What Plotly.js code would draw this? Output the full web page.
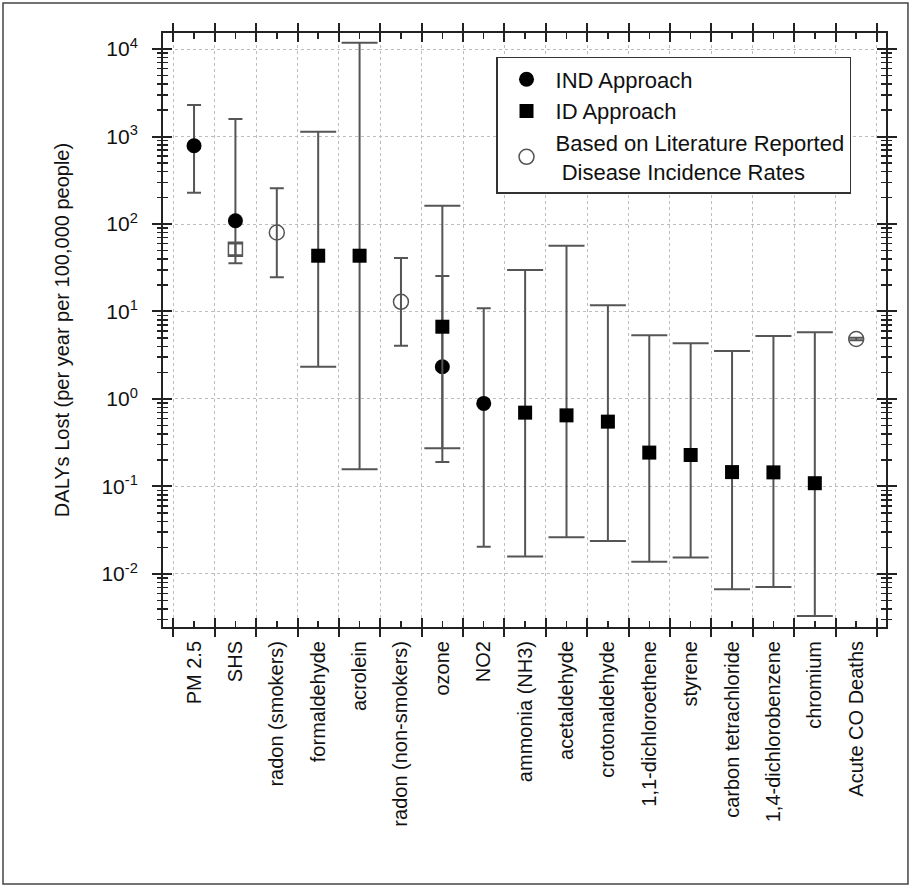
<!DOCTYPE html>
<html>
<head>
<meta charset="utf-8">
<script src="https://cdn.plot.ly/plotly-3.0.1.min.js"></script>
<style>
html,body{margin:0;padding:0;background:#fff;}
#chart{width:913px;height:888px;}
</style>
</head>
<body>
<div id="chart"></div>
<script>
// Categories along the x axis
const categories = ["PM 2.5","SHS","radon (smokers)","formaldehyde","acrolein","radon (non-smokers)","ozone","NO2","ammonia (NH3)","acetaldehyde","crotonaldehyde","1,1-dichloroethene","styrene","carbon tetrachloride","1,4-dichlorobenzene","chromium","Acute CO Deaths"];

// IND Approach (filled circles)
const indNames = ["PM 2.5","SHS","ozone","NO2"];
const indValue = [785, 109, 2.34, 0.89];
const indHigh  = [2290, 1585, 25.5, 10.9];
const indLow   = [228, 35.6, 0.19, 0.0205];

// ID Approach (filled squares)
const idNames = ["formaldehyde","acrolein","ozone","ammonia (NH3)","acetaldehyde","crotonaldehyde","1,1-dichloroethene","styrene","carbon tetrachloride","1,4-dichlorobenzene","chromium"];
const idValue = [43.4, 43.4, 6.7, 0.698, 0.65, 0.551, 0.244, 0.229, 0.146, 0.145, 0.109];
const idHigh  = [1135, 11800, 162, 29.8, 56.5, 11.8, 5.35, 4.33, 3.54, 5.25, 5.78];
const idLow   = [2.34, 0.157, 0.273, 0.0158, 0.0263, 0.0238, 0.0138, 0.0154, 0.0067, 0.0071, 0.0033];

// Based on literature reported disease incidence rates (open circles)
const litNames = ["radon (smokers)","radon (non-smokers)","Acute CO Deaths"];
const litValue = [80, 12.9, 4.85];
const litHigh  = [256, 41, 5.0];
const litLow   = [24.6, 4.07, 4.7];

// SHS open square (not in legend)
const sqNames = ["SHS"];
const sqValue = [51.6];
const sqHigh  = [60];
const sqLow   = [44];

// y tick labels
const yTickVals = [0.01, 0.1, 1, 10, 100, 1000, 10000];
const yTickText = ["10<sup>-2</sup>","10<sup>-1</sup>","10<sup>0</sup>","10<sup>1</sup>","10<sup>2</sup>","10<sup>3</sup>","10<sup>4</sup>"];

const idx = names => names.map(n => categories.indexOf(n));
const plus = (v, h) => h.map((x, i) => x - v[i]);
const minus = (v, l) => l.map((x, i) => v[i] - x);

// minor log tick positions (2..9 within each decade)
const minorVals = [];
[0.001, 0.01, 0.1, 1, 10, 100, 1000, 10000].forEach(d => {
  for (let k = 2; k <= 9; k++) minorVals.push(d * k);
});

const ebColor = '#555';
const xr = [-0.75, 16.72];
const yr = [-2.606, 4.183];
const centers = categories.map((c, i) => i);
const bounds = categories.map((c, i) => i - 0.5).concat([categories.length - 0.5]);

const traces = [
  {
    type: 'scatter', mode: 'markers', name: 'IND Approach',
    x: idx(indNames), y: indValue,
    marker: {symbol: 'circle', size: 15, color: '#000'},
    error_y: {type: 'data', symmetric: false, array: plus(indValue, indHigh), arrayminus: minus(indValue, indLow), color: ebColor, thickness: 2, width: 7}
  },
  {
    type: 'scatter', mode: 'markers', name: 'ID Approach',
    x: idx(idNames), y: idValue,
    marker: {symbol: 'square', size: 14, color: '#000'},
    error_y: {type: 'data', symmetric: false, array: plus(idValue, idHigh), arrayminus: minus(idValue, idLow), color: ebColor, thickness: 2, width: 18}
  },
  {
    type: 'scatter', mode: 'markers', name: 'Based on Literature Reported<br> Disease Incidence Rates',
    x: idx(litNames), y: litValue,
    marker: {symbol: 'circle-open', size: 15, color: '#555', line: {width: 1.5, color: '#555'}},
    error_y: {type: 'data', symmetric: false, array: plus(litValue, litHigh), arrayminus: minus(litValue, litLow), color: ebColor, thickness: 2, width: 7}
  },
  {
    type: 'scatter', mode: 'markers', name: 'SHS open', showlegend: false,
    x: idx(sqNames), y: sqValue,
    marker: {symbol: 'square-open', size: 14, color: '#555', line: {width: 1.5, color: '#555'}},
    error_y: {type: 'data', symmetric: false, array: plus(sqValue, sqHigh), arrayminus: minus(sqValue, sqLow), color: ebColor, thickness: 2, width: 7}
  },
  // empty helper traces so overlay axes are drawn
  {type: 'scatter', x: [], y: [], xaxis: 'x2', yaxis: 'y', showlegend: false, hoverinfo: 'skip'},
  {type: 'scatter', x: [], y: [], xaxis: 'x3', yaxis: 'y', showlegend: false, hoverinfo: 'skip'},
  {type: 'scatter', x: [], y: [], xaxis: 'x', yaxis: 'y2', showlegend: false, hoverinfo: 'skip'},
  {type: 'scatter', x: [], y: [], xaxis: 'x', yaxis: 'y3', showlegend: false, hoverinfo: 'skip'},
  {type: 'scatter', x: [], y: [], xaxis: 'x', yaxis: 'y4', showlegend: false, hoverinfo: 'skip'}
];

const axisColor = '#222';
const gridColor = '#bdbdbd';

function yOverlay(vals, dir, len, w) {
  return {
    type: 'log', range: yr, overlaying: 'y', anchor: 'x', side: 'left',
    tickmode: 'array', tickvals: vals, showticklabels: false,
    ticks: dir, ticklen: len, tickwidth: w, tickcolor: axisColor,
    showline: false, mirror: 'ticks', showgrid: false, zeroline: false
  };
}

const layout = {
  width: 913, height: 888,
  margin: {l: 163, r: 27, t: 33, b: 261},
  paper_bgcolor: '#fff', plot_bgcolor: '#fff',
  font: {family: 'Liberation Sans, Arial, sans-serif', color: '#111'},
  showlegend: true,
  legend: {
    x: 0.4606, y: 0.9596, xanchor: 'left', yanchor: 'top',
    bgcolor: '#fff', bordercolor: '#333', borderwidth: 1.5,
    font: {size: 22, color: '#111'},
    itemwidth: 48, tracegroupgap: 0
  },
  xaxis: {
    type: 'linear', range: xr, tickmode: 'array', tickvals: centers, ticktext: categories,
    tickangle: -90, tickfont: {size: 20, color: '#111'},
    ticks: 'inside', ticklen: 6, tickwidth: 1.5, tickcolor: axisColor,
    showline: true, linecolor: axisColor, linewidth: 2, mirror: 'ticks',
    showgrid: false, zeroline: false, ticklabelstandoff: 4
  },
  xaxis2: {
    type: 'linear', range: xr, overlaying: 'x', anchor: 'y', side: 'bottom',
    tickmode: 'array', tickvals: bounds, showticklabels: false,
    ticks: 'outside', ticklen: 9, tickwidth: 2, tickcolor: axisColor,
    showline: false, mirror: 'ticks',
    showgrid: true, gridcolor: gridColor, griddash: 'dot', gridwidth: 1, zeroline: false
  },
  xaxis3: {
    type: 'linear', range: xr, overlaying: 'x', anchor: 'y', side: 'bottom',
    tickmode: 'array', tickvals: bounds, showticklabels: false,
    ticks: 'inside', ticklen: 9, tickwidth: 2, tickcolor: axisColor,
    showline: false, mirror: 'ticks', showgrid: false, zeroline: false
  },
  yaxis: {
    type: 'log', range: yr, tickmode: 'array', tickvals: yTickVals, ticktext: yTickText,
    tickfont: {size: 21, color: '#111'},
    ticks: 'outside', ticklen: 9, tickwidth: 2, tickcolor: axisColor,
    showline: true, linecolor: axisColor, linewidth: 2, mirror: 'ticks',
    showgrid: true, gridcolor: gridColor, griddash: 'dot', gridwidth: 1, zeroline: false,
    ticklabelstandoff: 10,
    title: {text: 'DALYs Lost (per year per 100,000 people)', font: {size: 20, color: '#111'}, standoff: 26}
  },
  yaxis2: yOverlay(yTickVals, 'inside', 9, 2),
  yaxis3: yOverlay(minorVals, 'outside', 5, 1.5),
  yaxis4: yOverlay(minorVals, 'inside', 5, 1.5),
  shapes: [
    {type: 'rect', xref: 'paper', yref: 'paper', x0: -0.2213, x1: 1.0304, y0: -0.4327, y1: 1.0505,
     line: {color: '#444', width: 1.5}, fillcolor: 'rgba(0,0,0,0)', layer: 'above'}
  ]
};

Plotly.newPlot('chart', traces, layout, {staticPlot: true, displayModeBar: false});
</script>
</body>
</html>
